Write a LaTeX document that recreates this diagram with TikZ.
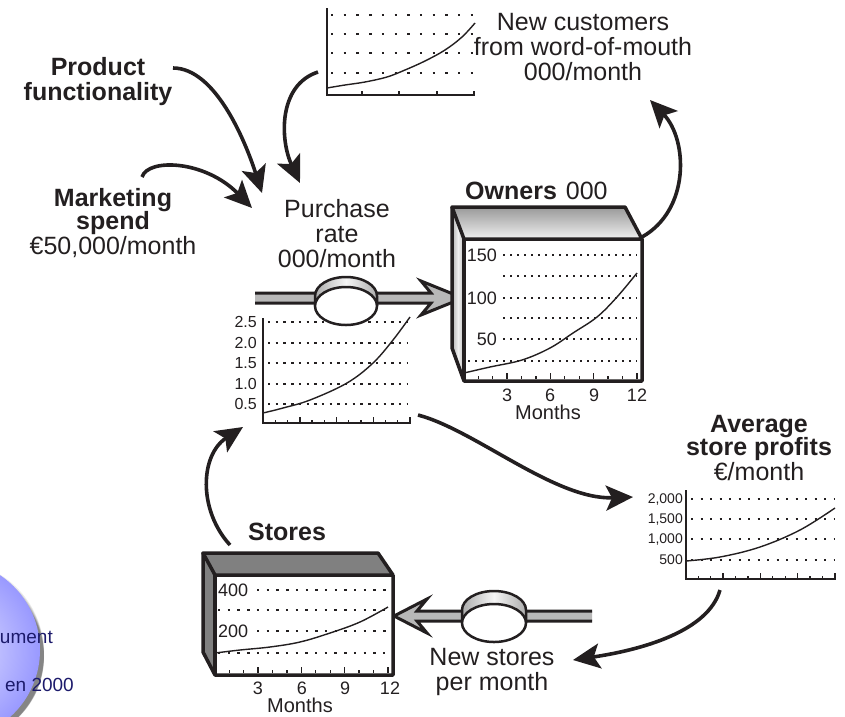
\documentclass[tikz,border=0pt]{standalone}
\usepackage{fontspec}
\setmainfont{Liberation Sans}
\usetikzlibrary{arrows.meta}
\definecolor{ink}{HTML}{231F20}
\definecolor{navy}{HTML}{1C1A6B}
\definecolor{pipegray}{HTML}{B8B8B8}
\definecolor{boxgray}{HTML}{808080}
\begin{document}
\begin{tikzpicture}[x=1pt,y=-1pt,
  txt/.style={inner sep=0pt, text=ink, align=center, font=\fontsize{25}{25}\selectfont},
  num/.style={inner sep=0pt, text=ink, font=\fontsize{18}{18}\selectfont},
  small/.style={inner sep=0pt, text=ink, font=\fontsize{14}{14}\selectfont},
  axtitle/.style={inner sep=0pt, text=ink, font=\fontsize{20}{20}\selectfont},
  badge/.style={inner sep=0pt, anchor=east, text=navy, font=\fontsize{19}{19}\selectfont},
  link/.style={draw=ink, line width=3.6pt, -{Stealth[length=27pt,width=25pt,inset=6pt]}},
  dotrow/.style={draw=ink, line width=2.4pt, dash pattern=on 2.4pt off #1},
  axis/.style={draw=ink, line width=2pt},
  trend/.style={draw=ink, line width=1.4pt},
  boxedge/.style={draw=ink, line width=3.5pt, line join=round},
  pipe/.style={draw=ink, line width=3pt, line join=miter},
  valve/.style={draw=ink, line width=2.5pt},
]
\useasboundingbox (0,0) rectangle (845,716);
\clip (0,0) rectangle (845,716);

% ---------- corner badge ----------
\foreach \k/\o in {1/0.08,2/0.10,3/0.12,4/0.14,5/0.16}
  \fill[black, opacity=\o] (-50+2*\k,652+\k) circle ({94-2*\k});
\shade[inner color=blue!10, outer color=blue!40] (-50,650) circle (90);
\node[badge] (doca) at (53,637) {ument};
\node[badge] (docb) at (74,685) {en 2000};

% ---------- labels ----------
\node[txt, anchor=north] (prodfun) at (98,57) {\textbf{Product}\\\textbf{functionality}};
\node[txt, anchor=north] (mktg) at (113,188) {\textbf{Marketing}\\[-2pt]\textbf{spend}\\€50,000/month};
\node[txt, anchor=north] (purch) at (337,199) {Purchase\\rate\\000/month};
\node[txt, anchor=north] (newcust) at (583,13) {New customers\\from word-of-mouth\\000/month};
\node[txt, anchor=north west] (ownlbl) at (465,182) {\textbf{Owners}\hspace{9pt}000};
\node[txt, anchor=north] (avgprof) at (759,415) {\textbf{Average}\\[-2pt]\textbf{store profits}\\€/month};
\node[txt, anchor=north west] (storelbl) at (248,523) {\textbf{Stores}};
\node[txt, anchor=north] (newstores) at (492,648) {New stores\\per month};

% ---------- word-of-mouth chart ----------
\foreach \y in {15,34,53,73} \draw[dotrow=10.3pt] (331,\y) -- (476,\y);
\draw[axis] (327,8) -- (327,95) -- (475,95);
\foreach \x in {362,399,437,474} \draw[ink, line width=1.5pt] (\x,95) -- ++(0,-4);
\draw[trend] plot[smooth, tension=0.6] coordinates {(327,88) (345,85) (365,82) (387,77) (405,70) (425,61) (445,50) (462,37) (475,23)};

% ---------- purchase-rate chart ----------
\foreach \y in {322,343,363,384,404} \draw[dotrow=5.3pt] (268,\y) -- (408,\y);
\foreach \y/\v in {322/2.5,343/2.0,363/1.5,384/1.0,404/0.5}
  \node[small, font=\fontsize{16}{16}\selectfont, anchor=east] (pr-\y) at (257,\y) {\v};
\draw[axis] (263,318) -- (263,423) -- (411,423);
\foreach \i in {1,...,12} \draw[ink, line width=1.2pt] ({263+12.25*\i},423) -- ++(0,-3);
\foreach \i in {3,6,9,12} \draw[ink, line width=1.5pt] ({263+12.25*\i},423) -- ++(0,-6);
\draw[trend] plot[smooth, tension=0.6] coordinates {(263,413) (283,408) (310,400) (347,383) (373,363) (393,340) (410,317)};

% ---------- purchase pipe and valve ----------
\fill[pipegray] (255,293) -- (431,293) -- (421,281) -- (463,298) -- (421,315) -- (431,303) -- (255,303) -- cycle;
\draw[pipe] (255,293) -- (431,293) -- (421,281) -- (463,298) -- (421,315) -- (431,303) -- (255,303);
\shade[left color=gray!65, right color=gray!65, middle color=gray!8]
  (315,296) arc[start angle=180, end angle=0, x radius=31, y radius=-19] -- (377,306) -- (315,306) -- cycle;
\draw[valve] (315,306) -- (315,296) arc[start angle=180, end angle=0, x radius=31, y radius=-19] -- (377,306);
\filldraw[valve, fill=white] (346,306) ellipse [x radius=31, y radius=19];
\node[inner sep=0pt, minimum size=0pt] (pvalve) at (346,306) {};

% ---------- owners stock ----------
\fill[white] (464,239) rectangle (642,381);
\shade[top color=gray!80, bottom color=gray!12] (452,207) -- (625,207) -- (642,239) -- (464,239) -- cycle;
\shade[left color=gray!60, right color=gray!50, middle color=gray!12] (452,207) -- (464,239) -- (464,381) -- (452,348) -- cycle;
\foreach \y/\s in {255/503,276/503,298/503,318/503,339/503,361/468} \draw[dotrow=4.6pt] (\s,\y) -- (637,\y);
\foreach \y/\v in {255/150,298/100,339/50} \node[num, anchor=east] (own-\v) at (497,\y) {\v};
\draw[trend] plot[smooth, tension=0.6] coordinates {(464,373) (490,367) (522,360) (550,348) (573,333) (597,317) (617,297) (637,273)};
\foreach \i in {1,...,12} \draw[ink, line width=1.2pt] ({464+14.4*\i},379) -- ++(0,-3);
\foreach \i in {3,6,9,12} \draw[ink, line width=1.5pt] ({464+14.4*\i},379) -- ++(0,-6);
\draw[boxedge] (452,207) -- (625,207) -- (642,239) -- (464,239) -- cycle;
\draw[boxedge] (452,207) -- (452,348) -- (464,381) -- (642,381) -- (642,239);
\draw[boxedge] (464,239) -- (464,381);
\foreach \m/\x in {3/507,6/550,9/594,12/637} \node[num] (own-m\m) at (\x,395) {\m};
\node[axtitle] (own-months) at (548,412) {Months};

% ---------- average store profits chart ----------
\foreach \y in {499,519,539,560} \draw[dotrow=7.1pt] (691,\y) -- (835,\y);
\foreach \y/\v in {499/{2,000},519/{1,500},539/{1,000},560/500}
  \node[small, anchor=east] (avg-\y) at (683,\y) {\v};
\draw[axis] (686,490) -- (686,579) -- (836,579);
\foreach \i in {1,...,12} \draw[ink, line width=1.2pt] ({686+12.4*\i},579) -- ++(0,-3);
\foreach \i in {3,6,9,12} \draw[ink, line width=1.5pt] ({686+12.4*\i},579) -- ++(0,-6);
\draw[trend] plot[smooth, tension=0.6] coordinates {(686,561) (720,557) (760,547) (800,530) (835,508)};

% ---------- new-stores pipe and valve ----------
\fill[pipegray] (592,611) -- (417,611) -- (427,599) -- (394,616) -- (427,633) -- (417,621) -- (592,621) -- cycle;
\draw[pipe] (592,611) -- (417,611) -- (427,599) -- (394,616) -- (427,633) -- (417,621) -- (592,621);
\shade[left color=gray!65, right color=gray!65, middle color=gray!8]
  (462,610) arc[start angle=180, end angle=0, x radius=32, y radius=-19] -- (526,623) -- (462,623) -- cycle;
\draw[valve] (462,623) -- (462,610) arc[start angle=180, end angle=0, x radius=32, y radius=-19] -- (526,623);
\filldraw[valve, fill=white] (494,623) ellipse [x radius=32, y radius=19];
\node[inner sep=0pt, minimum size=0pt] (svalve) at (494,623) {};

% ---------- stores stock ----------
\fill[white] (215,575) rectangle (393,675);
\fill[boxgray] (203,553) -- (378,553) -- (393,575) -- (215,575) -- cycle;
\fill[boxgray] (203,553) -- (215,575) -- (215,675) -- (203,652) -- cycle;
\foreach \y/\s in {590/257,610/218,631/257,653/218} \draw[dotrow=7.3pt] (\s,\y) -- (390,\y);
\foreach \y/\v in {590/400,631/200} \node[num, anchor=west] (st-\v) at (218,\y) {\v};
\draw[trend] plot[smooth, tension=0.6] coordinates {(215,653) (240,650) (270,647) (300,642) (330,633) (360,622) (388,607)};
\foreach \i in {1,...,12} \draw[ink, line width=1.2pt] ({215+14.4*\i},673) -- ++(0,-3);
\foreach \i in {3,6,9,12} \draw[ink, line width=1.5pt] ({215+14.4*\i},673) -- ++(0,-6);
\draw[boxedge] (203,553) -- (378,553) -- (393,575) -- (215,575) -- cycle;
\draw[boxedge] (203,553) -- (203,652) -- (215,675) -- (393,675) -- (393,575);
\draw[boxedge] (215,575) -- (215,675);
\foreach \m/\x in {3/258,6/302,9/345,12/390} \node[num] (st-m\m) at (\x,688) {\m};
\node[axtitle] (st-months) at (300,705) {Months};

% ---------- causal links ----------
\coordinate (pf-out) at (173,68);
\coordinate (mk-out) at (142,177);
\coordinate (wm-out) at (318,72);
\coordinate (pr-in1) at (262,193);
\coordinate (pr-in2) at (252,208);
\coordinate (pr-in3) at (300,183);
\coordinate (own-out) at (642,237);
\coordinate (wm-in) at (650,100);
\coordinate (prc-out) at (418,415);
\coordinate (avg-in) at (633,497);
\coordinate (avg-out) at (720,590);
\coordinate (ns-in) at (573,660);
\coordinate (st-out) at (230,545);
\coordinate (prc-in) at (243,427);

\draw[link] (pf-out) .. controls (215,68) and (245,140) .. (pr-in1);
\draw[link] (mk-out) .. controls (148,158) and (205,160) .. (pr-in2);
\draw[link] (wm-out) .. controls (278,85) and (280,140) .. (pr-in3);
\draw[link] (own-out) .. controls (690,210) and (688,140) .. (wm-in);
\draw[link] (prc-out) .. controls (475,430) and (555,500) .. (avg-in);
\draw[link] (avg-out) .. controls (708,632) and (640,650) .. (ns-in);
\draw[link] (st-out) .. controls (198,510) and (200,455) .. (prc-in);
\end{tikzpicture}
\end{document}
